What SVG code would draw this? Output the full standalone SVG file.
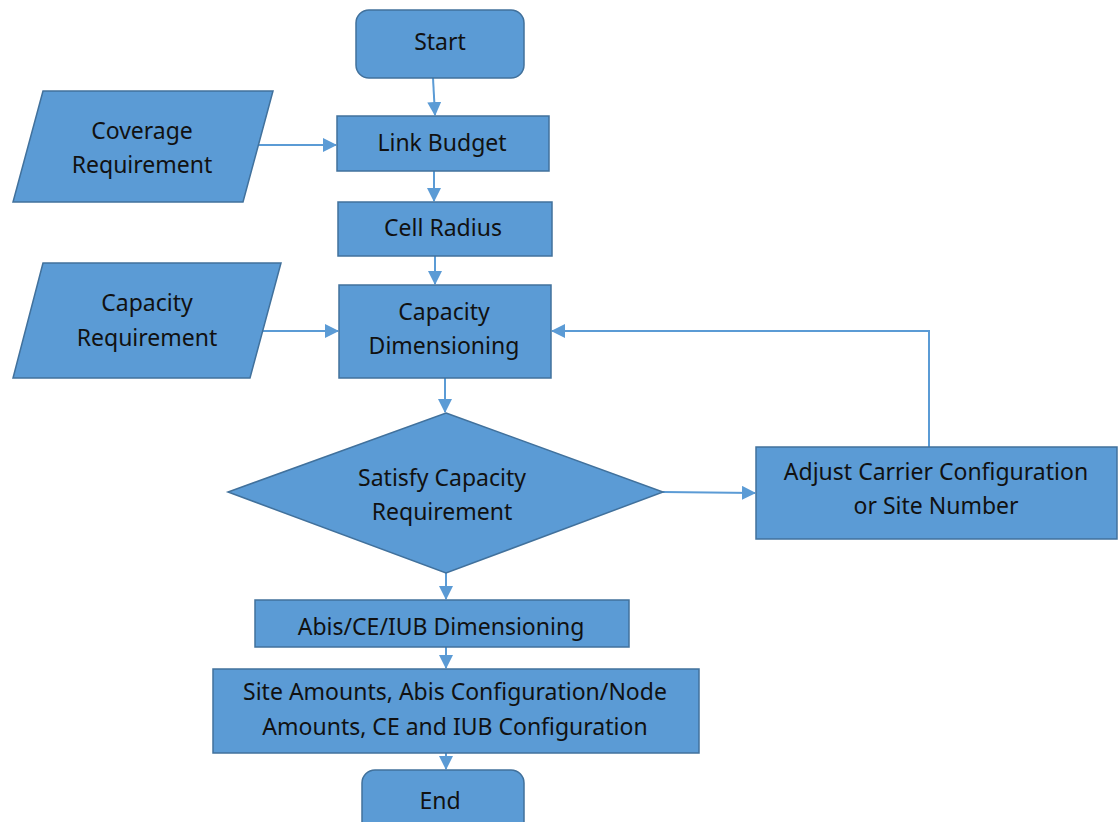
<svg xmlns="http://www.w3.org/2000/svg" width="1118" height="822" viewBox="0 0 1118 822">
<defs>
<marker id="ah" markerWidth="14" markerHeight="14" refX="13" refY="7" orient="auto" markerUnits="userSpaceOnUse">
<path d="M0,0 L14,7 L0,14 z" fill="#5B9BD5"/>
</marker>
<style>
.n{fill:#5B9BD5;stroke:#41719C;stroke-width:1.5}
.t{font-family:"Noto Sans","Open Sans",sans-serif;font-size:23px;fill:#111;text-anchor:middle}
.c{fill:none;stroke:#5B9BD5;stroke-width:2;marker-end:url(#ah)}
</style>
</defs>
<rect width="1118" height="822" fill="#fff"/>
<g id="connectors">
<path class="c" d="M433,78 L435,115"/>
<path class="c" d="M259,145 L336,145"/>
<path class="c" d="M434,171 L434,201"/>
<path class="c" d="M435,256 L435,284"/>
<path class="c" d="M262,331 L338,331"/>
<path class="c" d="M445,378 L445,412"/>
<path class="c" d="M663,492 L755,493"/>
<path class="c" d="M929,447 L929,331 L552,331"/>
<path class="c" d="M446,573 L446,599"/>
<path class="c" d="M446,647 L446,668"/>
<path class="c" d="M446,753 L446,769"/>
</g>
<g id="start">
<rect class="n" x="356" y="10" width="168" height="68" rx="13"/>
<text class="t" x="440" y="50">Start</text>
</g>
<g id="coverage">
<polygon class="n" points="43,91 273,91 243,202 13,202"/>
<text class="t" x="142" y="139">Coverage</text>
<text class="t" x="142" y="173">Requirement</text>
</g>
<g id="linkbudget">
<rect class="n" x="337" y="116" width="212" height="55"/>
<text class="t" x="442" y="151">Link Budget</text>
</g>
<g id="cellradius">
<rect class="n" x="338" y="202" width="214" height="54"/>
<text class="t" x="443" y="236">Cell Radius</text>
</g>
<g id="capacityreq">
<polygon class="n" points="43,263 281,263 250,378 13,378"/>
<text class="t" x="147" y="311">Capacity</text>
<text class="t" x="147" y="346">Requirement</text>
</g>
<g id="capacitydim">
<rect class="n" x="339" y="285" width="212" height="93"/>
<text class="t" x="444" y="320">Capacity</text>
<text class="t" x="444" y="354">Dimensioning</text>
</g>
<g id="decision">
<polygon class="n" points="446,413 663,492 446,573 228,492"/>
<text class="t" x="442" y="486">Satisfy Capacity</text>
<text class="t" x="442" y="520">Requirement</text>
</g>
<g id="adjust">
<rect class="n" x="756" y="447" width="361" height="92"/>
<text class="t" x="936" y="480">Adjust Carrier Configuration</text>
<text class="t" x="936" y="514">or Site Number</text>
</g>
<g id="abis">
<rect class="n" x="255" y="600" width="374" height="47"/>
<text class="t" x="441" y="635">Abis/CE/IUB Dimensioning</text>
</g>
<g id="site">
<rect class="n" x="213" y="669" width="486" height="84"/>
<text class="t" x="455" y="700">Site Amounts, Abis Configuration/Node</text>
<text class="t" x="455" y="735">Amounts, CE and IUB Configuration</text>
</g>
<g id="end">
<rect class="n" x="362" y="770" width="162" height="70" rx="13"/>
<text class="t" x="440" y="809">End</text>
</g>
</svg>
